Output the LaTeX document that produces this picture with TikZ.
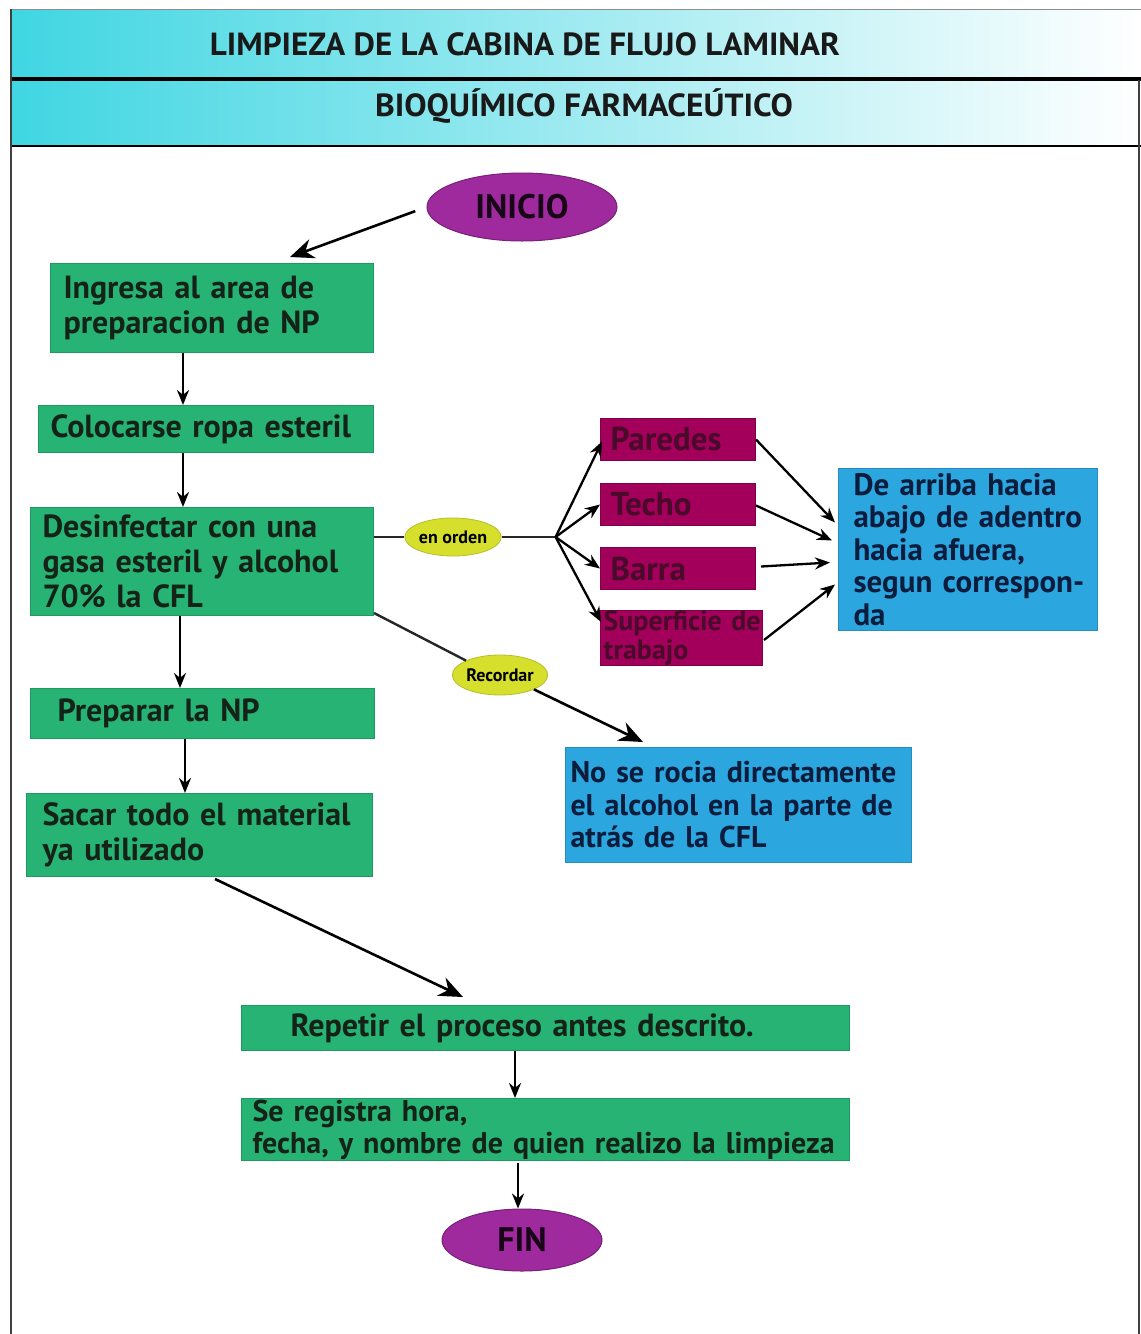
\documentclass[tikz,border=0pt]{standalone}
\usepackage{fontspec}
\setmainfont{PT Sans}
\usetikzlibrary{arrows.meta,shapes.geometric,calc}
\definecolor{hcyan}{HTML}{3FD6E2}
\definecolor{gboxc}{HTML}{27B374}
\definecolor{glinec}{HTML}{1E9A60}
\definecolor{purpc}{HTML}{9E2A9E}
\definecolor{magc}{HTML}{A3005C}
\definecolor{magtext}{HTML}{4A0A2A}
\definecolor{bluec}{HTML}{2CA6DF}
\definecolor{bluetext}{HTML}{0B1C3C}
\definecolor{yelc}{HTML}{D6E02C}
\definecolor{txtc}{HTML}{142218}
\newcommand\Lx[1]{\mbox{#1}}
\begin{document}
\begin{tikzpicture}[x=1pt,y=-1pt,
  gstep/.style={fill=gboxc, draw=glinec, line width=1pt, anchor=north west,
     inner ysep=0pt, align=left, text=txtc,
     font=\bfseries\fontsize{32}{35}\selectfont},
  mstep/.style={fill=magc, draw=magc!80!black, line width=1pt, anchor=north west,
     inner ysep=0pt, inner xsep=10pt, align=left, text=magtext,
     font=\bfseries\fontsize{33}{33}\selectfont},
  bstep/.style={fill=bluec, draw=bluec!85!black, line width=1pt, anchor=north west,
     inner ysep=0pt, align=left, text=bluetext,
     font=\bfseries\fontsize{31}{32.5}\selectfont},
  term/.style={ellipse, fill=purpc, draw=purpc!75!black, line width=1pt, inner sep=0pt,
     text=black!85!purpc, font=\bfseries\fontsize{34}{34}\selectfont},
  tag/.style={ellipse, fill=yelc, draw=yelc!85!black, line width=0.8pt, inner sep=0pt,
     text=black, font=\bfseries\fontsize{18}{18}\selectfont},
  arr/.style={-{Stealth[length=15pt,width=12pt]}, line width=2.3pt, black},
  bigarr/.style={-{Stealth[length=24pt,width=20pt]}, line width=2.6pt, black},
  lnk/.style={line width=2.4pt, black!85}
]
\useasboundingbox (0,0) rectangle (1141,1334);
\fill[white] (0,0) rectangle (1141,1334);
% header
\shade[left color=hcyan, right color=white] (11,9) rectangle (1141,79);
\shade[left color=hcyan, right color=white] (11,79) rectangle (1141,146);
\draw[black!45, line width=1pt] (11,9) -- (1141,9);
\draw[black, line width=3.5pt] (11,79) -- (1141,79);
\draw[black, line width=1.6pt] (11,146) -- (1141,146);
\draw[black!75, line width=2.4pt] (11,9) -- (11,1334);
\draw[black!75, line width=2.4pt] (1139,80) -- (1139,1334);
\node[font=\bfseries\fontsize{32}{32}\selectfont, text=black!90] (h1) at (525,44)
  {\resizebox{630pt}{\height}{LIMPIEZA DE LA CABINA DE FLUJO LAMINAR}};
\node[font=\bfseries\fontsize{32}{32}\selectfont, text=black!90] (h2) at (584,106)
  {\resizebox{418pt}{\height}{BIOQUÍMICO FARMACEÚTICO}};

% main column
\node[term, minimum width=190pt, minimum height=68pt] (ini) at (522,207) {INICIO};
\node[gstep, minimum width=323pt, minimum height=89pt, text width=297pt, inner xsep=13pt] (b1) at (50,263)
  {\Lx{Ingresa al area de}\\\Lx{preparacion de NP}};
\node[gstep, minimum width=335pt, minimum height=47pt, text width=311pt, inner xsep=12pt] (b2) at (38,405)
  {\Lx{Colocarse ropa esteril}};
\node[gstep, minimum width=343pt, minimum height=108pt, text width=319pt, inner xsep=12pt] (b3) at (30,507)
  {\Lx{Desinfectar con una}\\\Lx{gasa esteril y alcohol}\\\Lx{70\% la CFL}};
\node[gstep, minimum width=344pt, minimum height=50pt, text width=290pt, inner xsep=27pt] (b4) at (30,688)
  {\Lx{Preparar la NP}};
\node[gstep, minimum width=346pt, minimum height=83pt, text width=314pt, inner xsep=16pt] (b5) at (26,793)
  {\Lx{Sacar todo el material}\\\Lx{ya utilizado}};
\node[gstep, minimum width=608pt, minimum height=45pt, text width=510pt, inner xsep=49pt] (b6) at (241,1005)
  {\Lx{Repetir el proceso antes descrito.}};
\node[gstep, minimum width=608pt, minimum height=62pt, text width=586pt, inner xsep=11pt,
      font=\bfseries\fontsize{30}{32}\selectfont] (b7) at (241,1098)
  {\Lx{Se registra hora,}\\\Lx{fecha, y nombre de quien realizo la limpieza}};
\node[term, minimum width=160pt, minimum height=62pt] (fin) at (522,1240) {FIN};

% right branch
\node[tag, minimum width=90pt, minimum height=38pt] (eo) at (453,537) {en orden};
\coordinate (jn) at ($(eo.east)+(54,0)$);
\node[mstep, minimum width=155pt, minimum height=42pt, text width=135pt] (mp) at (600,418) {\Lx{Paredes}};
\node[mstep, minimum width=155pt, minimum height=42pt, text width=135pt] (mt) at (600,483) {\Lx{Techo}};
\node[mstep, minimum width=155pt, minimum height=42pt, text width=135pt] (mb) at (600,547) {\Lx{Barra}};
\node[mstep, minimum width=162pt, minimum height=55pt, text width=156pt, inner xsep=3pt,
      font=\bfseries\fontsize{28}{29}\selectfont] (ms) at (600,610) {\Lx{Superficie de}\\\Lx{trabajo}};
\node[bstep, minimum width=259pt, minimum height=162pt, text width=229pt, inner xsep=15pt] (bl) at (838,468)
  {\Lx{De arriba hacia}\\\Lx{abajo de adentro}\\\Lx{hacia afuera,}\\\Lx{segun correspon-}\\\Lx{da}};
\node[tag, minimum width=95pt, minimum height=40pt] (rec) at (500,675) {Recordar};
\node[bstep, minimum width=346pt, minimum height=115pt, text width=336pt, inner xsep=5pt,
      font=\bfseries\fontsize{30}{32.5}\selectfont] (nb) at (565,747)
  {\Lx{No se rocia directamente}\\\Lx{el alcohol en la parte de}\\\Lx{atrás de la CFL}};

% connectors main column
\draw[bigarr, shorten <=12pt] (ini.west) -- ($(b1.north west)+(240,-6)$);
\draw[arr] ($(b1.south west)+(133,0)$) coordinate (t1) -- (t1 |- b2.north);
\draw[arr] ($(b2.south west)+(145,0)$) coordinate (t2) -- (t2 |- b3.north);
\draw[arr] ($(b3.south west)+(150,0)$) coordinate (t3) -- (t3 |- b4.north);
\draw[arr] ($(b4.south west)+(155,0)$) coordinate (t4) -- (t4 |- b5.north);
\draw[bigarr] ($(b5.south west)+(189,2)$) -- ($(b6.north west)+(222,-8)$);
\draw[arr] ($(b6.south west)+(274,0)$) coordinate (t6) -- (t6 |- b7.north);
\draw[arr] ($(b7.south west)+(277,2)$) coordinate (t7) -- (t7 |- fin.north);

% right branch connectors
\draw[lnk] (eo.west -| b3.east) -- (eo.west);
\draw[lnk] (eo.east) -- (jn);
\draw[arr] (jn) -- ($(mp.west)+(2,2)$);
\draw[arr] (jn) -- (mt.west);
\draw[arr] (jn) -- (mb.west);
\draw[arr] (jn) -- ($(ms.north west)+(1,12)$);
\draw[arr] (mp.east) -- ($(bl.west)+(-3,-27)$);
\draw[arr] ($(mt.east)+(0,1)$) -- ($(bl.west)+(-6,-9)$);
\draw[arr] ($(mb.east)+(5,-2)$) -- ($(bl.west)+(-8,13)$);
\draw[arr] ($(ms.east)+(1,2)$) -- ($(bl.west)+(-3,35)$);
\draw[lnk] ($(b3.south east)+(0,-3)$) -- (rec.north west);
\draw[bigarr] (rec.south east) -- ($(nb.north west)+(78,-5)$);
\end{tikzpicture}
\end{document}
